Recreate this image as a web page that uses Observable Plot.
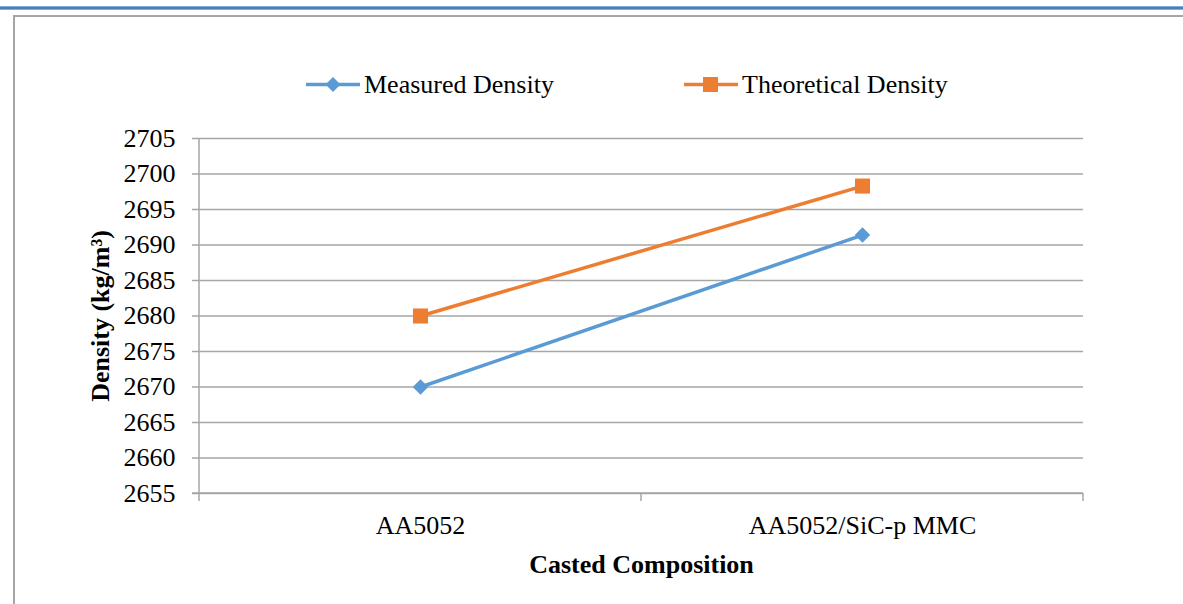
<!DOCTYPE html>
<html>
<head>
<meta charset="utf-8">
<script src="https://cdn.jsdelivr.net/npm/d3@7"></script>
<script src="https://cdn.jsdelivr.net/npm/@observablehq/plot@0.6"></script>
<style>
  html, body { margin: 0; padding: 0; background: #fff; }
  #wrap { position: relative; width: 1183px; height: 604px; overflow: hidden; font-family: "Liberation Serif", "Times New Roman", serif; }
  #topline { position: absolute; left: 0; top: 6px; width: 1183px; height: 4px;
    background: linear-gradient(#a9c4e8 0, #4a7ebb 35%, #4a7ebb 65%, #a9c4e8 100%); }
  #frame { position: absolute; left: 13px; top: 15px; width: 1400px; height: 800px;
    border-top: 2px solid #a6a6a6; border-left: 2px solid #a6a6a6; box-sizing: border-box; }
  #legend { position: absolute; left: 0; top: 0; width: 1183px; height: 110px; }
  .li { position: absolute; top: 67px; display: flex; align-items: center; font-size: 26px; color: #000; white-space: nowrap; }
  .li svg { display: block; margin-right: 3px; }
  #chart { position: absolute; left: 0; top: 110px; }
</style>
</head>
<body>
<div id="wrap">
  <div id="topline"></div>
  <div id="frame"></div>
  <div id="legend"></div>
  <div id="chart"></div>
</div>
<script>
// ---- data ----
const categories = ["AA5052", "AA5052/SiC-p MMC"];
const seriesNames = ["Measured Density", "Theoretical Density"];
const measuredDensity = [2670, 2691.4];
const theoreticalDensity = [2680, 2698.3];
const yTicks = [2655, 2660, 2665, 2670, 2675, 2680, 2685, 2690, 2695, 2700, 2705];
const seriesColors = ["#5b9bd5", "#ed7d31"];
const seriesSymbols = ["diamond2", "square"];
const xTitle = "Casted Composition";
const yTitle = "Density (kg/m³)";

const rows = [];
[measuredDensity, theoreticalDensity].forEach((vals, s) => {
  vals.forEach((v, i) => rows.push({series: seriesNames[s], category: categories[i], value: v}));
});

// ---- legend ----
const legend = document.getElementById("legend");
const legendX = [305, 683];
seriesNames.forEach((name, s) => {
  const item = document.createElement("div");
  item.className = "li";
  item.style.left = legendX[s] + "px";
  const shape = s === 0
    ? `<path d="M28,10 L35.5,17.5 L28,25 L20.5,17.5 Z" fill="${seriesColors[s]}"/>`
    : `<rect x="20" y="10" width="15" height="15" fill="${seriesColors[s]}"/>`;
  item.innerHTML = `<svg width="56" height="35"><line x1="1" x2="55" y1="17.5" y2="17.5" stroke="${seriesColors[s]}" stroke-width="3.5"/>${shape}</svg><span>${name}</span>`;
  legend.appendChild(item);
});

// ---- chart ----
const font = '"Liberation Serif", "Times New Roman", serif';
const color = {domain: seriesNames, range: seriesColors};

const axisLines = (index, scales, values, dims) => {
  const g = d3.create("svg:g");
  const x0 = dims.marginLeft, x1 = dims.width - dims.marginRight;
  const yb = dims.height - dims.marginBottom, yt = dims.marginTop;
  const bw = scales.x.bandwidth ? scales.x.bandwidth() : (x1 - x0) / categories.length;
  g.append("line").attr("x1", x0).attr("x2", x0).attr("y1", yt).attr("y2", yb)
    .attr("stroke", "#a6a6a6").attr("stroke-width", 1.5);
  g.append("line").attr("x1", x0 - 7).attr("x2", x1).attr("y1", yb).attr("y2", yb)
    .attr("stroke", "#a6a6a6").attr("stroke-width", 1.5);
  const bounds = categories.map(c => scales.x(c)).concat([scales.x(categories[categories.length - 1]) + bw]);
  bounds.forEach(bx => {
    g.append("line").attr("x1", bx).attr("x2", bx).attr("y1", yb).attr("y2", yb + 8)
      .attr("stroke", "#a6a6a6").attr("stroke-width", 1.5);
  });
  return g.node();
};

const chart = Plot.plot({
  width: 1183,
  height: 494,
  marginLeft: 199,
  marginRight: 100,
  marginTop: 28,
  marginBottom: 111,
  style: {fontFamily: font, fontSize: "26px", color: "#000", background: "transparent", overflow: "visible"},
  x: {type: "band", domain: categories, padding: 0, label: null},
  y: {domain: [2655, 2705], label: null},
  color,
  marks: [
    Plot.ruleY(yTicks, {stroke: "#a6a6a6", strokeWidth: 1.5}),
    Plot.axisY({ticks: yTicks, tickFormat: "d", tickSize: 7, tickPadding: 17, stroke: "#a6a6a6", strokeWidth: 1.5, fontSize: 26, fill: "#000", label: null}),
    Plot.axisX({tickSize: 0, tickPadding: 22, fontSize: 26, fill: "#000", label: null}),
    axisLines,
    Plot.line(rows, {x: "category", y: "value", z: "series", stroke: "series", strokeWidth: 3.5}),
    Plot.dot(rows.filter(d => d.series === seriesNames[0]), {x: "category", y: "value", fill: "series", symbol: () => seriesSymbols[0], r: 7}),
    Plot.dot(rows.filter(d => d.series === seriesNames[1]), {x: "category", y: "value", fill: "series", symbol: () => seriesSymbols[1], r: 8.5}),
    Plot.text([xTitle], {frameAnchor: "bottom", dy: 71, text: d => d, fontSize: 26, fontWeight: "bold", fill: "#000", textAnchor: "middle", lineAnchor: "middle"}),
    Plot.text([yTitle], {frameAnchor: "left", dx: -99, rotate: -90, text: d => d, fontSize: 26, fontWeight: "bold", fill: "#000", textAnchor: "middle", lineAnchor: "middle"})
  ]
});
document.getElementById("chart").appendChild(chart);
</script>
</body>
</html>
